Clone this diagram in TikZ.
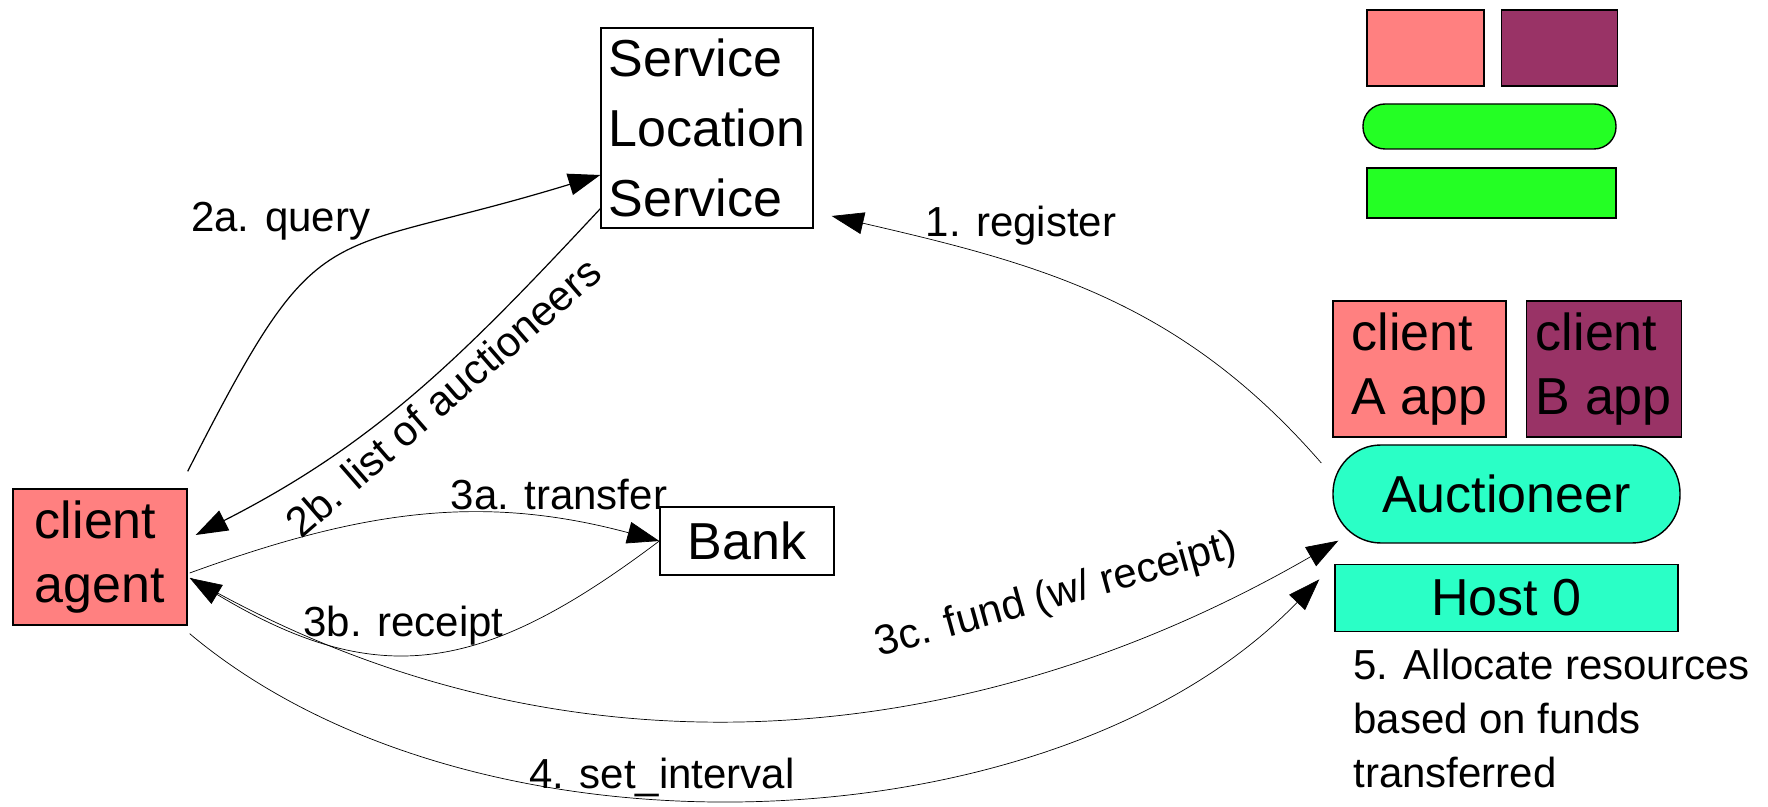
\documentclass[tikz,border=0pt]{standalone}
\usepackage{fontspec}
\setmainfont{Liberation Sans}
\usepackage{tikz}
\usetikzlibrary{arrows.meta, positioning}
\definecolor{clientpink}{RGB}{255,128,128}
\definecolor{clientplum}{RGB}{153,51,102}
\definecolor{keygreen}{RGB}{36,255,36}
\definecolor{auctteal}{RGB}{42,255,198}
\newcommand{\boxfont}{\fontsize{26}{35}\selectfont}
\newcommand{\appfont}{\fontsize{26}{32}\selectfont}
\newcommand{\msgfont}{\fontsize{21}{27}\selectfont}

\begin{document}
\begin{tikzpicture}[
    x=0.5pt, y=0.5pt,
    box/.style={draw, line width=0.7pt, inner sep=0pt, font=\boxfont},
    keybox/.style={draw, line width=0.7pt, inner sep=0pt},
    msg/.style={font=\msgfont, inner sep=0pt},
    edge/.style={-{Triangle[length=16pt, width=11pt]}, line width=0.35pt},
    backedge/.style={{Triangle[length=16pt, width=11pt]}-, line width=0.6pt}
]
    \useasboundingbox (0,0) rectangle (1768,-807);

    % Key
    \node[keybox, fill=clientpink, minimum width=58.5pt, minimum height=38pt] (keyA) at (1425.5,-48) {};
    \node[keybox, fill=clientplum, minimum width=58pt, minimum height=38pt, right=8pt of keyA] (keyB) {};
    \node[keybox, fill=keygreen, rounded corners=11pt, minimum width=126.5pt, minimum height=22.5pt] (keyauct) at (1489.5,-126.5) {};
    \node[keybox, fill=keygreen, minimum width=124.5pt, minimum height=25pt] (keyhost) at (1491.5,-193) {};

    % Parties
    \node[box, fill=white, minimum width=106pt, minimum height=100pt, align=left] (sls) at (707,-128) {Service\\Location\\Service};
    \node[box, fill=clientpink, minimum width=87pt, minimum height=68pt, align=left, font=\appfont] (agent) at (100,-557) {client\\agent};
    \node[box, minimum width=87pt, minimum height=34pt] (bank) at (747,-541) {Bank};

    % Host side
    \node[box, fill=clientpink, minimum width=86.5pt, minimum height=68pt, align=left, font=\appfont] (appA) at (1419.5,-369) {client\\A app};
    \node[box, fill=clientplum, minimum width=77.5pt, minimum height=68pt, align=left, font=\appfont, right=9.5pt of appA] (appB) {client\\B app};
    \node[box, fill=auctteal, rounded corners=24pt, minimum width=173.5pt, minimum height=49pt] (auct) at (1506.5,-494) {Auctioneer};
    \node[box, fill=auctteal, minimum width=171.5pt, minimum height=33.5pt, below=10pt of auct] (host) {Host 0};
    \node[msg, align=left, anchor=north west] (alloc) at (1353,-649) {5. Allocate resources\\based on funds\\transferred};

    % Messages
    \draw[edge] ([xshift=-5.5pt, yshift=15.5pt]auct.west) to[out=131, in=347]
        node[msg, pos=0.665, above=10pt] (lblreg) {1. register} ([xshift=9pt, yshift=-44pt]sls.east);
    \draw[edge, line width=0.6pt] ([yshift=8.5pt]agent.north east) to[out=63, in=197, looseness=1.5]
        node[msg, pos=0.6, anchor=south east] (lblquery) {2a. query} ([yshift=-23.5pt]sls.west);
    \draw[backedge] ([xshift=4pt, yshift=11pt]agent.east) to[out=27, in=227]
        node[msg, sloped, pos=0.54, below=3pt] (lbllist) {2b. list of auctioneers} ([yshift=10pt]sls.south west);
    \draw[edge] ([xshift=1pt, yshift=-8pt]agent.east) to[out=20, in=165]
        node[msg, pos=0.8, above=5pt] (lbltransfer) {3a. transfer} (bank.west);
    \draw[edge] (bank.west) to[out=217, in=329, looseness=1.2]
        node[msg, pos=0.56, above=3.5pt] (lblreceipt) {3b. receipt} ([xshift=1pt, yshift=-10.5pt]agent.east);
    \draw[edge] ([xshift=1.5pt, yshift=-10.5pt]agent.east) to[out=-30, in=210, looseness=0.95]
        node[msg, pos=0.756, rotate=15.5, above=24.5pt] (lblfund) {3c. fund (w/ receipt)} ([xshift=3pt, yshift=1.5pt]auct.south west);
    \draw[edge] ([xshift=1pt, yshift=-4pt]agent.south east) to[out=-40, in=226, looseness=0.85]
        node[msg, pos=0.42, above=0.5pt] (lblinterval) {4. set\_interval} ([xshift=-7.5pt, yshift=9.25pt]host.west);
\end{tikzpicture}
\end{document}
